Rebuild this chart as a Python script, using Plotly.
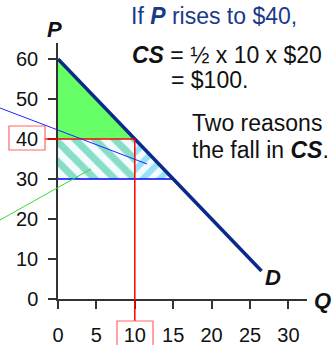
import plotly.graph_objects as go

# ---- data ----
Q_demand = [0, 26.5]
P_demand = [60, 7]
P_max = 60
P_new, Q_new = 40, 10
P_old, Q_old = 30, 15
x_ticks = [0, 5, 10, 15, 20, 25, 30]
y_ticks = [0, 10, 20, 30, 40, 50, 60]
blue_ptr = [(-7.55, 47.75), (11.6, 33.75)]
green_ptr = [(-7.55, 19.75), (4.3, 32.5)]

XMAX, YMAX = 32.42, 64
FONT = "Liberation Sans, Arial, sans-serif"

def xp(q):
    return q / XMAX

def yp(p):
    return p / YMAX

fig = go.Figure()

# green CS triangle
fig.add_trace(go.Scatter(x=[0, 0, Q_new, 0], y=[P_max, P_new, P_new, P_max],
                         fill="toself", fillcolor="#66ff66", mode="lines",
                         line=dict(width=0), hoverinfo="skip"))
# teal hatched rectangle
fig.add_trace(go.Scatter(x=[0, 0, Q_new, Q_new, 0], y=[P_old, P_new, P_new, P_old, P_old],
                         fill="toself", mode="lines", line=dict(width=0),
                         fillcolor="#f4fbff",
                         fillpattern=dict(shape="\\", fgcolor="#1abf8c", bgcolor="#f4fbff",
                                          size=14, solidity=0.5),
                         hoverinfo="skip"))
# light blue hatched triangle
fig.add_trace(go.Scatter(x=[Q_new, Q_new, Q_old, Q_new], y=[P_new, P_old, P_old, P_new],
                         fill="toself", mode="lines", line=dict(width=0),
                         fillcolor="#f4fbff",
                         fillpattern=dict(shape="/", fgcolor="#3cc6f0", bgcolor="#f4fbff",
                                          size=12, solidity=0.5),
                         hoverinfo="skip"))
# P = 30 line
fig.add_trace(go.Scatter(x=[0, Q_old], y=[P_old, P_old], mode="lines",
                         line=dict(color="#0000ff", width=1.5), hoverinfo="skip"))
# demand curve
fig.add_trace(go.Scatter(x=Q_demand, y=P_demand, mode="lines",
                         line=dict(color="#0a2a8a", width=3.5), hoverinfo="skip"))

shapes = []
# red lines
shapes.append(dict(type="line", xref="paper", yref="paper",
                   x0=xp(-1.69), y0=yp(P_new), x1=xp(Q_new), y1=yp(P_new),
                   line=dict(color="#ff0000", width=1.5)))
shapes.append(dict(type="line", xref="paper", yref="paper",
                   x0=xp(Q_new), y0=yp(P_new), x1=xp(Q_new), y1=yp(-5.5),
                   line=dict(color="#ff0000", width=1.5)))
# red boxes around tick labels
shapes.append(dict(type="rect", xref="paper", yref="paper",
                   x0=xp(-6.38), x1=xp(-1.69), y0=yp(37.25), y1=yp(43.25),
                   line=dict(color="#ff6666", width=1.2)))
shapes.append(dict(type="rect", xref="paper", yref="paper",
                   x0=xp(7.68), x1=xp(12.37), y0=yp(-12), y1=yp(-5.5),
                   line=dict(color="#ff6666", width=1.2)))
# pointer lines
shapes.append(dict(type="line", xref="paper", yref="paper",
                   x0=xp(blue_ptr[0][0]), y0=yp(blue_ptr[0][1]),
                   x1=xp(blue_ptr[1][0]), y1=yp(blue_ptr[1][1]),
                   line=dict(color="#2222ff", width=1)))
shapes.append(dict(type="line", xref="paper", yref="paper",
                   x0=xp(green_ptr[0][0]), y0=yp(green_ptr[0][1]),
                   x1=xp(green_ptr[1][0]), y1=yp(green_ptr[1][1]),
                   line=dict(color="#33dd33", width=1)))

def ann(text, x, y, size=23, color="#111111", xanchor="left"):
    return dict(text=text, xref="paper", yref="paper", x=x, y=y, xanchor=xanchor,
                yanchor="middle", showarrow=False,
                font=dict(size=size, color=color, family=FONT))

annotations = [
    ann("<b><i>P</i></b>", xp(-0.5), yp(67.5), size=22, xanchor="center"),
    ann("<b><i>Q</i></b>", xp(34.5), yp(-0.3), size=22, xanchor="center"),
    ann("<b><i>D</i></b>", xp(28), yp(5.3), size=22, xanchor="center"),
    ann("If <b><i>P</i></b> rises to $40,", xp(9.2), yp(70.75), color="#1a3a8a"),
    ann("<b><i>CS</i></b> = ½ x 10 x $20", xp(9.35), yp(61)),
    ann("= $100.", xp(14.4), yp(54.75)),
    ann("Two reasons", xp(17.2), yp(44)),
    ann("the fall in <b><i>CS</i></b>.", xp(17.2), yp(37.25)),
]

fig.update_layout(
    width=335, height=345, autosize=False,
    margin=dict(l=58, r=28, t=43, b=46, pad=0, autoexpand=False),
    plot_bgcolor="white", paper_bgcolor="white",
    showlegend=False,
    shapes=shapes, annotations=annotations,
    font=dict(family=FONT, color="#111111"),
)
fig.update_xaxes(range=[0, XMAX], tickvals=x_ticks, ticks="outside", ticklen=8,
                 tickwidth=1.5, tickcolor="#333333", showline=True, linecolor="#333333",
                 linewidth=1.5, showgrid=False, zeroline=False, automargin=False,
                 tickfont=dict(size=20, family=FONT, color="#111111"),
                 ticklabelstandoff=9)
fig.update_yaxes(range=[0, YMAX], tickvals=y_ticks, ticks="outside", ticklen=8,
                 tickwidth=1.5, tickcolor="#333333", showline=True, linecolor="#333333",
                 linewidth=1.5, showgrid=False, zeroline=False, automargin=False,
                 tickfont=dict(size=20, family=FONT, color="#111111"),
                 ticklabelstandoff=6)

# remove the default 8px page margin so the figure fills the window
fig.write_html("out.html", config={"displayModeBar": False},
               post_script="document.body.style.margin='0px';")
